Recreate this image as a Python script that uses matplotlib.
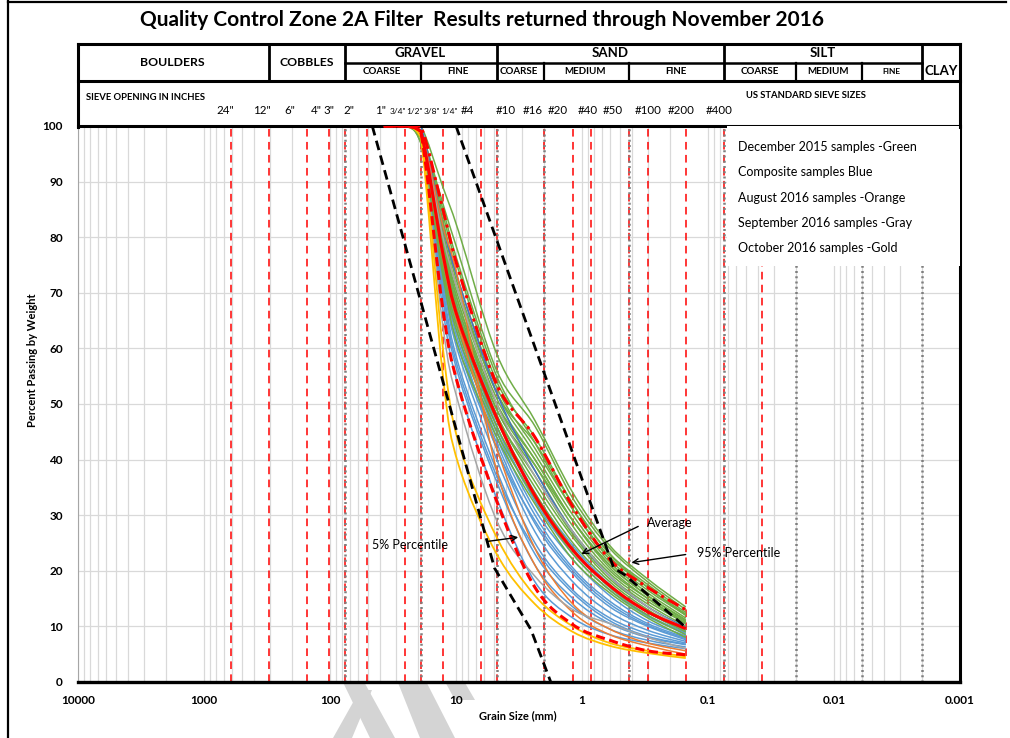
import numpy as np
import matplotlib
matplotlib.use("Agg")
import matplotlib.pyplot as plt
from matplotlib import transforms
from matplotlib.patches import Rectangle, PathPatch, Polygon
from matplotlib.path import Path
from matplotlib.ticker import LogLocator, NullFormatter

plt.rcParams['font.family'] = ['Lato', 'DejaVu Sans']

# sieve sizes (mm) of the gradation tests
sieves = [37.5, 25.4, 19.05, 12.7, 9.525, 4.75, 2.36, 1.18, 0.6, 0.3, 0.15]

# December 2015 samples (green)
green = [
    [100, 100, 100, 89, 81, 59, 47, 34, 24.5, 18.5, 13.5],
    [100, 100, 99, 86, 77, 56, 46, 33, 24, 18, 13],
    [100, 100, 99, 85, 75, 55, 43, 31, 22.5, 17, 12.2],
    [100, 100, 99, 84, 74, 54, 44, 32, 23, 17.5, 12.5],
    [100, 100, 99, 83, 72, 53, 42, 31, 22, 16.5, 12],
    [100, 100, 99, 82, 71, 52, 43, 32, 23, 17, 12],
    [100, 100, 99, 81, 70, 52, 41, 30, 21.5, 16, 11.5],
    [100, 100, 98, 80, 69, 51, 40, 29, 21, 15.5, 11],
    [100, 100, 99, 80, 68, 49, 39, 29, 21, 15.5, 11.2],
    [100, 100, 98, 79, 68, 50, 39, 28, 20, 15, 10.8],
    [100, 100, 98, 78, 67, 49, 38, 27, 19.5, 14.5, 10.5],
    [100, 100, 98, 78, 66, 50, 40, 29, 20.5, 15, 10.5],
    [100, 100, 99, 79, 66, 48, 37, 26.5, 19, 14, 10],
    [100, 100, 98, 77, 65, 48, 36, 26, 18.5, 13.5, 9.7],
    [100, 100, 98, 76, 64, 47, 35, 25, 18, 13, 9.3],
    [100, 100, 98, 75, 63, 46, 34, 24, 17, 12.5, 9],
    [100, 100, 97, 74, 62, 45, 33, 23, 16.5, 12, 8.5],
    [100, 100, 97, 73, 60, 44, 32, 22, 16, 11.5, 8],
]

# Composite samples (blue)
blue = [
    [100, 100, 98, 67, 53, 33, 18, 11.5, 8.5, 7, 6],
    [100, 100, 98, 69, 55, 36, 21, 13.5, 9.5, 7.5, 6.3],
    [100, 100, 99, 70, 56, 37, 24, 16, 11, 8.2, 6.8],
    [100, 100, 99, 71, 57, 38, 23, 15, 10.5, 8, 6.7],
    [100, 100, 99, 72, 59, 40, 25, 16.5, 11.5, 8.7, 7],
    [100, 100, 99, 73, 60, 42, 27, 18, 12.5, 9.3, 7.3],
    [100, 100, 99, 74, 61, 43, 28.5, 19.5, 13.5, 10, 7.6],
    [100, 100, 99, 74, 62, 42, 29, 20, 14, 10.2, 7.8],
    [100, 100, 99, 75, 63, 44, 30, 20.5, 14.5, 10.5, 8],
    [100, 100, 99, 76, 64, 45, 31, 22, 15.5, 11, 8.3],
    [100, 100, 99, 77, 65, 46, 32.5, 23, 16.5, 11.8, 8.7],
    [100, 100, 99, 78, 66, 46, 33, 24, 17, 12, 8.9],
    [100, 100, 99, 79, 67, 48, 34, 24.5, 17.5, 12.5, 9.2],
]
blue_dark = [100, 100, 100, 82, 72, 52, 38, 27, 19, 13.5, 9.8]

# August 2016 samples (orange)
orange = [
    [100, 100, 99, 82, 72, 38, 21, 12.5, 8.5, 6.5, 5],
    [100, 100, 99, 76, 64, 42, 24, 14, 9.5, 7, 5.6],
]

# September 2016 samples (gray)
gray = [
    [100, 100, 99, 64, 50, 29, 19, 13, 10.5, 8, 6],
    [100, 100, 99, 80, 70, 50, 37, 27, 19, 13.5, 9.5],
]

# October 2016 samples (gold)
gold = [
    [100, 100, 98, 55, 39, 23, 14, 9, 6.5, 5.2, 4.3],
    [100, 100, 99, 60, 43, 26, 15.5, 10, 7, 5.6, 4.6],
]

# statistics of all samples
average = [100, 100, 99, 77, 65, 47.5, 33.5, 23.7, 17.3, 12.6, 9.6]
pct_5 = [100, 100, 99, 67, 53, 32.5, 17, 10.3, 7.5, 5.6, 4.9]
pct_95 = [100, 100, 100, 85, 74, 53.5, 44, 31.5, 22, 17, 13]

# filter specification envelope (black dashed)
spec_fine_mm = [46.2, 4.95, 2.54, 1.77]
spec_fine_pct = [100, 20.5, 9.4, 0]
spec_coarse_mm = [10.0, 0.56, 0.46, 0.151]
spec_coarse_pct = [100, 20.5, 19.3, 9.9]

# sieve lines (mm) and soil class boundaries (mm)
sieve_lines = [609.6, 304.8, 152.4, 101.6, 76.2, 50.8, 25.4, 19.05, 12.7, 6.35,
               4.75, 2.0, 1.18, 0.85, 0.425, 0.3, 0.15, 0.075, 0.0375]
class_bounds = [76.2, 19.05, 4.75, 2.0, 0.425, 0.075, 0.02, 0.006, 0.002]

sieve_labels = ['24"', '12"', '6"', '4"', '3"', '2"', '1"', '3/4"', '1/2"', '3/8"',
                '1/4"', '#4', '#10', '#16', '#20', '#40', '#50', '#100', '#200', '#400']

x_ticks = [10000, 1000, 100, 10, 1, 0.1, 0.01, 0.001]
x_ticklabels = ['10000', '1000', '100', '10', '1', '0.1', '0.01', '0.001']

legend_lines = ['December 2015 samples -Green', 'Composite samples Blue',
                'August 2016 samples -Orange', 'September 2016 samples -Gray',
                'October 2016 samples -Gold']


def smooth_line(ax, xs, ys, **kw):
    # smoothed line like the spreadsheet: cubic Bezier through the points (log x)
    p = np.column_stack([np.log10(xs), np.asarray(ys, float)])
    n = len(p)
    verts = [p[0]]
    codes = [Path.MOVETO]
    for i in range(n - 1):
        p0 = p[i - 1] if i > 0 else p[i]
        p3 = p[i + 2] if i + 2 < n else p[i + 1]
        c1 = p[i] + (p[i + 1] - p0) / 6
        c2 = p[i + 1] - (p3 - p[i]) / 6
        verts += [c1, c2, p[i + 1]]
        codes += [Path.CURVE4] * 3
    v = np.array(verts)
    v[:, 0] = 10 ** v[:, 0]
    v[:, 1] = np.minimum(v[:, 1], 100)
    ax.add_patch(PathPatch(Path(v, codes), facecolor='none', **kw))


W, H = 1010, 738
fig = plt.figure(figsize=(W / 100, H / 100), dpi=100)

# watermark stripes behind everything
wm = fig.add_axes([0, 0, 1, 1], zorder=-1)
wm.set_xlim(0, W)
wm.set_ylim(H, 0)
wm.axis('off')
for poly in [[(333, 738), (352, 738), (372, 690), (360, 690)],
             [(370, 738), (395, 738), (352, 660), (338, 672)],
             [(420, 738), (455, 738), (410, 650), (385, 650)],
             [(455, 700), (475, 700), (440, 640), (425, 645)]]:
    wm.add_patch(Polygon(poly, closed=True, facecolor='#d4d4d4', edgecolor='none'))

ax = fig.add_axes([78 / W, 1 - 682 / H, 882 / W, 556 / H])
ax.set_xscale('log')
ax.set_xlim(10000, 0.001)
ax.set_ylim(0, 100)

ax.set_xticks(x_ticks)
ax.set_xticklabels(x_ticklabels)
ax.xaxis.set_minor_locator(LogLocator(base=10, subs=range(2, 10), numticks=20))
ax.xaxis.set_minor_formatter(NullFormatter())
ax.set_yticks(range(0, 101, 10))
ax.tick_params(which='both', length=0)
ax.tick_params(axis='x', pad=9, labelsize=8.5)
ax.tick_params(axis='y', pad=11, labelsize=8.5)
for lab in ax.get_xticklabels() + ax.get_yticklabels():
    lab.set_fontweight('bold')

ax.grid(which='both', axis='x', color='#d9d9d9', lw=0.9)
ax.grid(which='major', axis='y', color='#d9d9d9', lw=0.9)
ax.set_axisbelow(True)

ax.spines['left'].set_color('#a6a6a6')
ax.spines['left'].set_linewidth(0.8)
ax.spines['bottom'].set_linewidth(2.4)
ax.spines['top'].set_linewidth(2.2)
ax.spines['right'].set_linewidth(2.2)

# sieve lines and class boundaries
for s in sieve_lines:
    ax.axvline(s, color='#ff0000', lw=1.1, ls=(0, (5, 3.5)), zorder=1)
for b in class_bounds:
    ax.axvline(b, color='#7f7f7f', lw=1.8, ls=(0, (0.8, 1.3)), zorder=1)

# sample curves
for c in blue:
    smooth_line(ax, sieves, c, edgecolor='#5b9bd5', lw=1.1, zorder=2)
for c in green:
    smooth_line(ax, sieves, c, edgecolor='#70ad47', lw=1.1, zorder=2)
smooth_line(ax, sieves, blue_dark, edgecolor='#4472c4', lw=1.1, zorder=2)
for c in orange:
    smooth_line(ax, sieves, c, edgecolor='#ed7d31', lw=1.1, zorder=2)
for c in gray:
    smooth_line(ax, sieves, c, edgecolor='#a5a5a5', lw=1.1, zorder=2)
for c in gold:
    smooth_line(ax, sieves, c, edgecolor='#ffc000', lw=1.3, zorder=2)

smooth_line(ax, sieves, pct_5, edgecolor='#ff0000', lw=2.2, ls=(0, (3, 1.5)), zorder=3)
smooth_line(ax, sieves, pct_95, edgecolor='#ff0000', lw=2.2, ls=(0, (4, 1.5, 1, 1.5)), zorder=3)
smooth_line(ax, sieves, average, edgecolor='#ff0000', lw=2.2, zorder=3)

ax.plot(spec_fine_mm, spec_fine_pct, color='black', lw=2.0, ls=(0, (3.5, 2)), zorder=4)
ax.plot(spec_coarse_mm, spec_coarse_pct, color='black', lw=2.0, ls=(0, (3.5, 2)), zorder=4)

# annotations
arrow = dict(arrowstyle='->', color='black', lw=1.0)
ax.annotate('', xy=(3.05, 26.1), xytext=(6.0, 25.2), arrowprops=arrow, zorder=6)
ax.text(46.2, 24.6, '5% Percentile', fontsize=9, va='center', ha='left', zorder=6)
ax.annotate('', xy=(1.06, 22.8), xytext=(0.342, 28.2), arrowprops=arrow, zorder=6)
ax.text(0.307, 28.6, 'Average', fontsize=9, va='center', ha='left', zorder=6)
ax.annotate('', xy=(0.426, 21.4), xytext=(0.143, 23.0), arrowprops=arrow, zorder=6)
ax.text(0.123, 23.2, '95% Percentile', fontsize=9, va='center', ha='left', zorder=6)

# legend box
ax.add_patch(Rectangle((0.736, 0.748), 0.264, 0.252, transform=ax.transAxes,
                       facecolor='white', edgecolor='none', zorder=5))
for i, t in enumerate(legend_lines):
    ax.text(0.748, 0.962 - i * 0.0455, t, transform=ax.transAxes, fontsize=9,
            va='center', ha='left', zorder=6)

# overlay in pixel coordinates for the header
ov = fig.add_axes([0, 0, 1, 1])
ov.set_xlim(0, W)
ov.set_ylim(H, 0)
ov.axis('off')
bt = transforms.blended_transform_factory(ax.transData, ov.transData)

# outer frame of the sheet
ov.plot([8, 8], [0, H], color='black', lw=1.6)
ov.plot([8, 1006], [2, 2], color='black', lw=1.6)

# header table
ov.plot([78, 960], [44, 44], color='black', lw=2.2)
ov.plot([78, 960], [81, 81], color='black', lw=2.2)
ov.plot([78, 78], [44, 127], color='black', lw=2.2)
ov.plot([960, 960], [44, 127], color='black', lw=2.2)
ov.plot([76.2, 0.002], [63, 63], color='black', lw=1.8, transform=bt)
for b in [304.8, 76.2, 4.75, 0.075, 0.002]:
    ov.plot([b, b], [44, 81], color='black', lw=2.0, transform=bt)
for b in [19.05, 2.0, 0.425, 0.02, 0.006]:
    ov.plot([b, b], [63, 81], color='black', lw=1.6, transform=bt)

hb = dict(ha='center', va='center', fontweight='bold')
ov.text(172, 63, 'BOULDERS', fontsize=8.8, **hb)
ov.text(307, 63, 'COBBLES', fontsize=8.8, **hb)
ov.text(420, 53, 'GRAVEL', fontsize=9.5, **hb)
ov.text(610, 53, 'SAND', fontsize=9.5, **hb)
ov.text(823, 53, 'SILT', fontsize=9.5, **hb)
ov.text(941, 71, 'CLAY', fontsize=9.5, **hb)
sub_names = ['COARSE', 'FINE', 'COARSE', 'MEDIUM', 'FINE', 'COARSE', 'MEDIUM', 'FINE']
sub_x = [382, 458, 519, 585, 676, 760, 828, 891]
sub_size = [7, 7, 7, 7, 7, 7, 7, 6]
for name, x, fs in zip(sub_names, sub_x, sub_size):
    ov.text(x, 72, name, fontsize=fs, **hb)

ov.text(86, 97, 'SIEVE OPENING IN INCHES', fontsize=6.8, fontweight='bold', va='center')
ov.text(746, 96, 'US STANDARD SIEVE SIZES', fontsize=6.8, fontweight='bold', va='center')
label_x = [225, 262, 290, 316, 329, 349, 381, 398, 415, 432, 450, 467,
           506, 533, 558, 588, 613, 648, 681, 719]
for t, x in zip(sieve_labels, label_x):
    small = '/' in t
    ov.text(x, 111 if small else 110, t, fontsize=6 if small else 8.3,
            ha='center', va='center')

ov.text(482, 20, 'Quality Control Zone 2A Filter  Results returned through November 2016',
        fontsize=15, fontweight='bold', ha='center', va='center')
ov.text(33, 360, 'Percent Passing by Weight', fontsize=8, fontweight='bold',
        rotation=90, ha='center', va='center')
ov.text(518, 716, 'Grain Size (mm)', fontsize=8, fontweight='bold',
        ha='center', va='center')

fig.savefig('out.png', dpi=100)
